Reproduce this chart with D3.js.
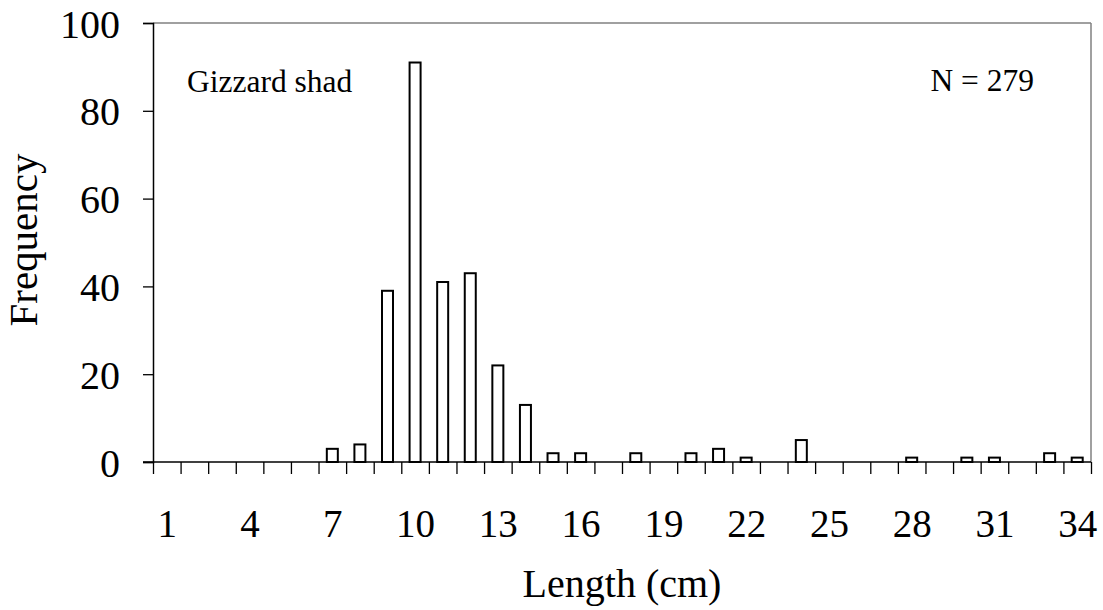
<!DOCTYPE html>
<html>
<head>
<meta charset="utf-8">
<script src="https://cdn.jsdelivr.net/npm/d3@7"></script>
<style>
  html, body { margin: 0; padding: 0; background: #fff; }
  svg { display: block; }
  text { font-family: "Liberation Serif", "Times New Roman", serif; fill: #000; }
</style>
</head>
<body>
<svg id="chart" width="1103" height="610"></svg>
<script>
// Data
const lengths = d3.range(1, 35); // 1..34 cm
const frequencies = [0,0,0,0,0,0,3,4,39,91,41,43,22,13,2,2,0,2,0,2,3,1,0,5,0,0,0,1,0,1,1,0,2,1];
const xTickLabels = [1,4,7,10,13,16,19,22,25,28,31,34];
const yTicks = [0,20,40,60,80,100];
const speciesLabel = "Gizzard shad";
const nLabel = "N = 279";
const xTitle = "Length (cm)";
const yTitle = "Frequency";

const svg = d3.select("#chart");
const mLeft = 153, mRight = 1091, mTop = 23, mBottom = 462;
const serif = "Liberation Serif, Times New Roman, serif";

const x = d3.scaleBand().domain(lengths).range([mLeft, mRight]).padding(0);
const xEdge = d3.scaleLinear().domain([0.5, 34.5]).range([mLeft, mRight]);
const y = d3.scaleLinear().domain([0, 100]).range([mBottom, mTop]);

// Frame (top and right borders gray)
svg.append("line").attr("x1", mLeft).attr("x2", mRight).attr("y1", mTop).attr("y2", mTop)
  .attr("stroke", "#808080").attr("stroke-width", 1.5);
svg.append("line").attr("x1", mRight).attr("x2", mRight).attr("y1", mTop).attr("y2", mBottom)
  .attr("stroke", "#808080").attr("stroke-width", 1.5);

// Bars
const barW = 11;
svg.append("g").selectAll("rect").data(lengths.map((l, i) => ({l, v: frequencies[i]})).filter(d => d.v > 0))
  .join("rect")
  .attr("x", d => x(d.l) + x.bandwidth() / 2 - barW / 2)
  .attr("width", barW)
  .attr("y", d => y(d.v))
  .attr("height", d => y(0) - y(d.v))
  .attr("fill", "#fff")
  .attr("stroke", "#000")
  .attr("stroke-width", 2);

// Y axis
const yAxis = svg.append("g").attr("transform", `translate(${mLeft},0)`)
  .call(d3.axisLeft(y).tickValues(yTicks).tickSize(10).tickPadding(23));
yAxis.attr("font-family", serif);
yAxis.select(".domain").attr("stroke", "#000").attr("stroke-width", 1.5);
yAxis.selectAll(".tick line").attr("stroke", "#000").attr("stroke-width", 1.3);
yAxis.selectAll(".tick text").attr("font-size", 40).attr("dy", "0.35em");

// X axis: boundary ticks
const xAxis = svg.append("g").attr("transform", `translate(0,${mBottom})`)
  .call(d3.axisBottom(xEdge).tickValues(d3.range(0.5, 35, 1)).tickSize(12).tickFormat(""));
xAxis.select(".domain").remove();
xAxis.selectAll(".tick line").attr("stroke", "#000").attr("stroke-width", 1.3);
svg.append("line").attr("x1", mLeft - 10).attr("x2", mRight).attr("y1", mBottom).attr("y2", mBottom)
  .attr("stroke", "#000").attr("stroke-width", 1.5);

// X labels
const xLab = svg.append("g").attr("transform", `translate(0,${mBottom})`)
  .call(d3.axisBottom(xEdge).tickValues(xTickLabels).tickSize(0).tickPadding(0));
xLab.attr("font-family", serif);
xLab.select(".domain").remove();
xLab.selectAll(".tick text").attr("font-size", 39).attr("dy", null).attr("y", 75);

// Titles
svg.append("text").attr("x", 622).attr("y", 597).attr("text-anchor", "middle")
  .attr("font-family", serif).attr("font-size", 40).text(xTitle);
svg.append("text").attr("transform", `translate(37,${240}) rotate(-90)`)
  .attr("text-anchor", "middle").attr("font-family", serif).attr("font-size", 41).text(yTitle);

// Annotations
svg.append("text").attr("x", 187).attr("y", 92).attr("font-family", serif).attr("font-size", 31.5).text(speciesLabel);
svg.append("text").attr("x", 1034).attr("y", 91).attr("text-anchor", "end").attr("font-family", serif).attr("font-size", 31.5).text(nLabel);
</script>
</body>
</html>
